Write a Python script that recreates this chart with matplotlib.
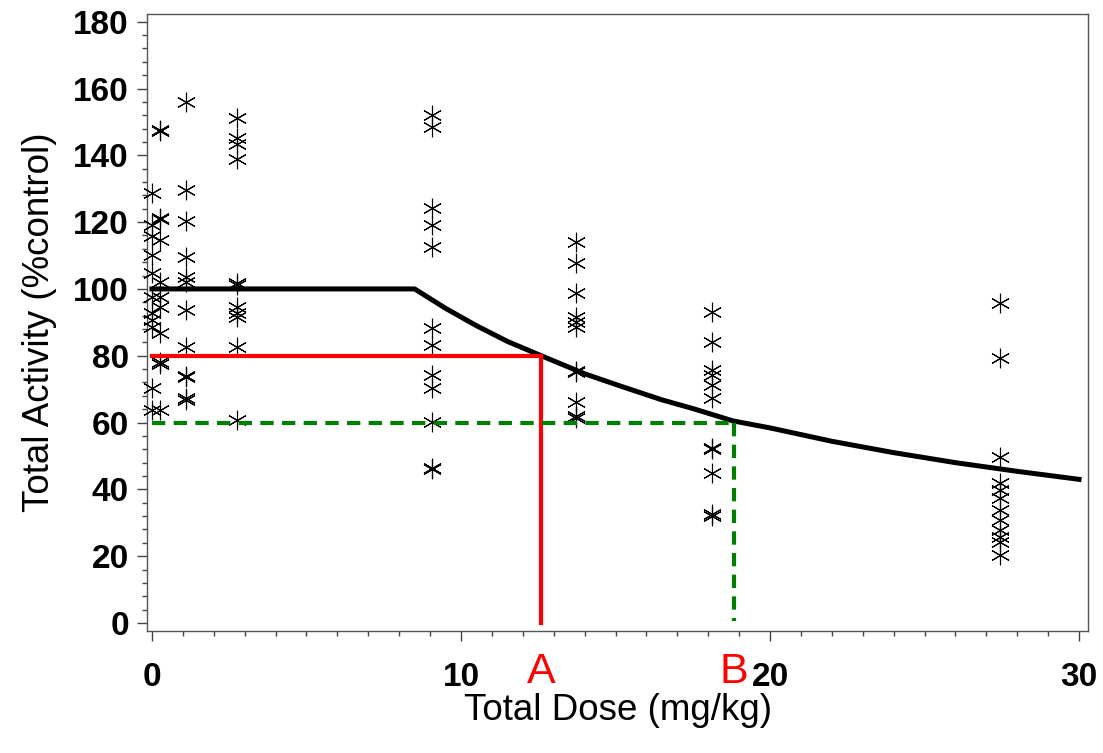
import matplotlib
matplotlib.use("Agg")
import matplotlib.pyplot as plt
from matplotlib.ticker import MultipleLocator
import matplotlib.transforms as mtransforms

# ---- observed data: dose level -> responses (%control) ----
dose_levels = [0.0, 0.26, 1.1, 2.76, 9.05, 13.72, 18.11, 27.44]
resp_0 = [128.8, 119.2, 115.9, 110.3, 104.7, 97.7, 92.7, 90.7, 88.7, 70.3, 63.8]
resp_1 = [147.6, 147.2, 121.2, 120.8, 114.7, 102.2, 97.7, 94.5, 86.9, 78.0, 77.6, 63.8]
resp_2 = [155.9, 129.6, 120.2, 109.7, 103.7, 102.2, 93.7, 82.7, 74.0, 73.5, 67.3, 66.8]
resp_3 = [151.1, 145.1, 143.4, 139.0, 101.9, 101.2, 94.7, 92.7, 91.5, 82.7, 60.8]
resp_4 = [152.1, 148.6, 124.2, 119.2, 112.7, 88.2, 83.2, 74.3, 70.3, 60.3, 46.3, 46.0]
resp_5 = [114.2, 107.7, 98.7, 91.7, 90.2, 88.7, 75.4, 75.0, 66.3, 62.0, 61.5]
resp_6 = [93.2, 84.2, 75.7, 74.2, 71.3, 67.3, 52.5, 52.0, 44.8, 32.5, 32.0]
resp_7 = [95.7, 79.2, 49.8, 41.8, 39.8, 37.3, 33.8, 30.8, 27.8, 25.8, 24.3, 20.3]
responses = [resp_0, resp_1, resp_2, resp_3, resp_4, resp_5, resp_6, resp_7]

# ---- fitted hockey-stick curve ----
model_dose = [0, 8.5, 9.5, 10.5, 11.5, 12.6, 14, 15.2, 16.5, 17.5, 18.8, 20, 22, 24, 26, 28, 30]
model_resp = [100, 100, 94.2, 89.0, 84.3, 80.0, 74.6, 70.8, 66.8, 64.2, 60.5, 58.4, 54.4, 51.0, 48.0, 45.4, 43.0]

# ---- benchmark doses ----
dose_A, level_A = 12.6, 80
dose_B, level_B = 18.83, 60

LABEL_FONT = ["Liberation Sans", "DejaVu Sans"]

fig = plt.figure(figsize=(11.03, 7.53), dpi=100)
ax = fig.add_axes([0.1333, 0.162, 0.8531, 0.8194])

for d, r in zip(dose_levels, responses):
    ax.plot([d] * len(r), r, linestyle="none", marker=(6, 2, 0), markersize=14,
            markeredgewidth=0.8, color="black", clip_on=False, zorder=3)

ax.plot(model_dose, model_resp, color="black", lw=3.6, zorder=4)

ax.plot([0, dose_A], [level_A, level_A], color="red", lw=3.0, zorder=5)
ax.plot([dose_A, dose_A], [0, level_A], color="red", lw=3.0, zorder=5)
ax.plot([0, dose_B], [level_B, level_B], color="green", lw=3.0, ls=(0, (3.2, 2.0)), zorder=5)
ax.plot([dose_B, dose_B], [level_B, 0.5], color="green", lw=3.0, ls=(0, (3.2, 2.0)), zorder=5)

trans = mtransforms.blended_transform_factory(ax.transData, ax.transAxes)
ax.text(dose_A, -0.067, "A", transform=trans, color="red", fontsize=31,
        family=LABEL_FONT, ha="center", va="center", clip_on=False)
ax.text(dose_B, -0.067, "B", transform=trans, color="red", fontsize=31,
        family=LABEL_FONT, ha="center", va="center", clip_on=False)

ax.set_xlim(-0.16, 30.29)
ax.set_ylim(-2.4, 182.3)
ax.xaxis.set_major_locator(MultipleLocator(10))
ax.xaxis.set_minor_locator(MultipleLocator(1))
ax.yaxis.set_major_locator(MultipleLocator(20))
ax.yaxis.set_minor_locator(MultipleLocator(4))
ax.tick_params(which="major", direction="out", length=7, width=1, color="#444444")
ax.tick_params(which="minor", direction="out", length=3.5, width=1, color="#444444")
ax.tick_params(axis="x", which="major", pad=15)
ax.tick_params(axis="y", which="major", pad=6)
for lab in ax.get_xticklabels() + ax.get_yticklabels():
    lab.set_fontfamily(LABEL_FONT)
    lab.set_fontweight("bold")
    lab.set_fontsize(24)
for sp in ax.spines.values():
    sp.set_color("#555555")
    sp.set_linewidth(1)

ax.set_xlabel("Total Dose (mg/kg)", fontsize=26.5, family=LABEL_FONT)
ax.xaxis.set_label_coords(0.5, -0.1)
ax.set_ylabel("Total Activity (%control)", fontsize=26.5, family=LABEL_FONT, labelpad=12)

fig.savefig("out.png", dpi=100, facecolor="white")
